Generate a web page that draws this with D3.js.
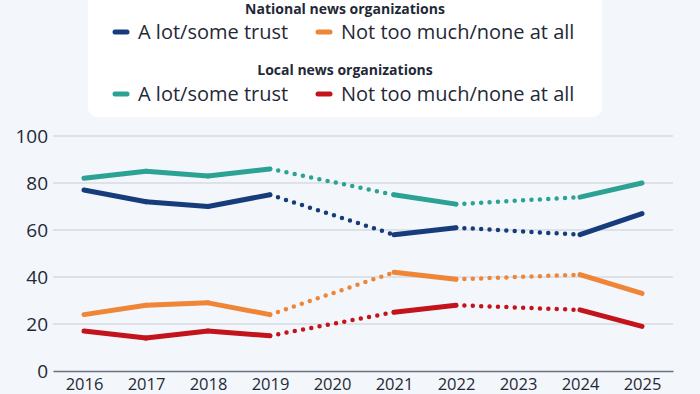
<!DOCTYPE html>
<html>
<head>
<meta charset="utf-8">
<script src="https://cdn.jsdelivr.net/npm/d3@7"></script>
<style>
  html, body { margin: 0; padding: 0; background: #f3f6fa; }
  svg { display: block; font-family: "Open Sans", sans-serif; }
</style>
</head>
<body>
<svg id="chart" width="700" height="394"></svg>
<script>
// survey years (2020 and 2023 had no survey, drawn dotted across)
const years = [2016, 2017, 2018, 2019, 2021, 2022, 2024, 2025];
const axisYears = [2016, 2017, 2018, 2019, 2020, 2021, 2022, 2023, 2024, 2025];
const yTicks = [0, 20, 40, 60, 80, 100];

const nationalTrust = [77, 72, 70, 75, 58, 61, 58, 67];
const nationalDistrust = [24, 28, 29, 24, 42, 39, 41, 33];
const localTrust = [82, 85, 83, 86, 75, 71, 74, 80];
const localDistrust = [17, 14, 17, 15, 25, 28, 26, 19];

const groups = ['National news organizations', 'Local news organizations'];
const labels = ['A lot/some trust', 'Not too much/none at all'];

const series = [
    { name: 'nat-trust', values: nationalTrust, color: '#173c7c' },
    { name: 'nat-distrust', values: nationalDistrust, color: '#ef8637' },
    { name: 'loc-trust', values: localTrust, color: '#2ba294' },
    { name: 'loc-distrust', values: localDistrust, color: '#c3141c' },
];

const width = 700, height = 394;
const textColor = '#1f2937';
const $ = d3.select('#chart');

const X = d3.scalePoint()
    .domain(axisYears)
    .range([53, 673])
    .padding(0.5);
const Y = d3.scaleLinear()
    .domain([0, 100])
    .range([371, 136]);

// grid
$.append('g').attr('class', 'y-grid')
    .selectAll('line')
    .data(yTicks.filter(d => d > 0))
    .join('line')
        .attr('x1', 53)
        .attr('x2', 673)
        .attr('y1', d => Y(d))
        .attr('y2', d => Y(d))
        .attr('stroke', '#c9ced6')
        .attr('stroke-width', 1);

// y axis labels
let yAxis = d3.axisLeft(Y).tickValues(yTicks).tickSize(0).tickPadding(0);
$.append('g')
    .attr('class', 'y-axis')
    .attr('transform', 'translate(48,0)')
    .call(yAxis)
    .call(g => g.select('.domain').remove())
    .call(g => g.selectAll('text')
        .attr('fill', textColor)
        .attr('font-size', 19)
        .attr('font-family', '"Open Sans", sans-serif'));

// x axis
let xAxis = d3.axisBottom(X).tickSize(0).tickPadding(7);
$.append('g')
    .attr('class', 'x-axis')
    .attr('transform', `translate(0,${Y(0)})`)
    .call(xAxis)
    .call(g => g.select('.domain')
        .attr('stroke', '#6b7280')
        .attr('stroke-width', 1.6))
    .call(g => g.selectAll('text')
        .attr('fill', textColor)
        .attr('font-size', 16.5)
        .attr('font-family', '"Open Sans", sans-serif'));

// lines: solid between consecutive years, dotted across survey gaps
let elements = $.append('g').attr('class', 'elements');
series.forEach(s => {
    let pts = years.map((yr, i) => ({ year: yr, value: s.values[i] }));
    let segs = d3.pairs(pts).map(([a, b]) => ({ a, b, dotted: b.year - a.year > 1 }));
    elements.append('g')
        .attr('class', 'series ' + s.name)
        .selectAll('path')
        .data(segs)
        .join('path')
            .attr('d', d => `M${X(d.a.year)},${Y(d.a.value)}L${X(d.b.year)},${Y(d.b.value)}`)
            .attr('fill', 'none')
            .attr('stroke', s.color)
            .attr('stroke-width', d => d.dotted ? 4.5 : 5)
            .attr('stroke-linecap', 'round')
            .attr('stroke-dasharray', d => d.dotted ? '0 8.4' : null);
});

// legend box
let legend = $.append('g').attr('class', 'legend');
legend.append('rect')
    .attr('x', 88)
    .attr('y', -10)
    .attr('width', 514)
    .attr('height', 127)
    .attr('rx', 9)
    .attr('fill', '#ffffff');

const headerY = [14, 75];
const rowY = [32, 94];
const itemX = [113, 316];
groups.forEach((g, gi) => {
    legend.append('text')
        .attr('x', 345)
        .attr('y', headerY[gi])
        .attr('text-anchor', 'middle')
        .attr('font-size', 14)
        .attr('font-weight', 700)
        .attr('fill', textColor)
        .text(g);
    labels.forEach((l, li) => {
        let s = series[gi * 2 + li];
        legend.append('line')
            .attr('x1', itemX[li] + 2)
            .attr('x2', itemX[li] + 14)
            .attr('y1', rowY[gi])
            .attr('y2', rowY[gi])
            .attr('stroke', s.color)
            .attr('stroke-width', 5)
            .attr('stroke-linecap', 'round');
        legend.append('text')
            .attr('x', itemX[li] + 25)
            .attr('y', rowY[gi])
            .attr('dy', '0.35em')
            .attr('font-size', 20)
            .attr('fill', textColor)
            .text(l);
    });
});
</script>
</body>
</html>
